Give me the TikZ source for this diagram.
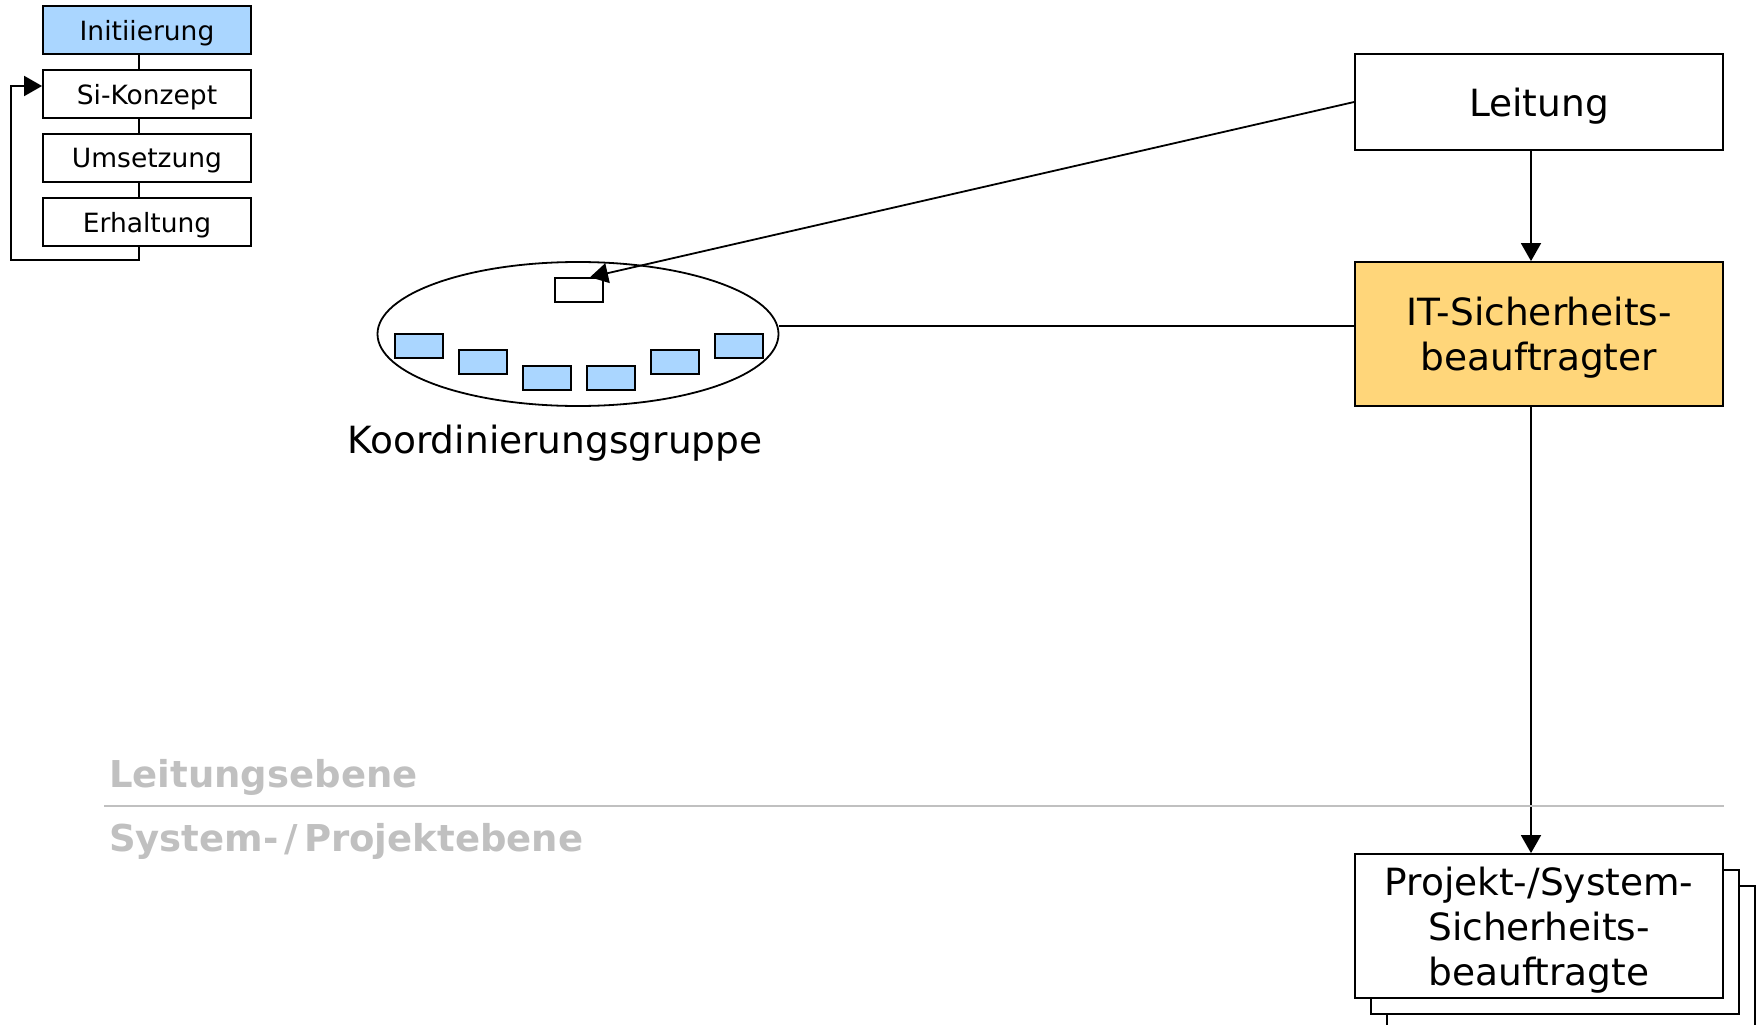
\documentclass[tikz,border=0pt]{standalone}
\usepackage{fontspec}
\setmainfont{DejaVu Sans}
\usetikzlibrary{shapes.geometric, arrows.meta}

\definecolor{memberblue}{RGB}{170,214,255}
\definecolor{itorange}{RGB}{255,214,122}
\definecolor{levelgray}{RGB}{192,192,192}

\newcommand\stagefont{\fontsize{26.5}{32}\selectfont}
\newcommand\boxfont{\fontsize{37.5}{45}\selectfont}
\newcommand\levelfont{\bfseries\fontsize{37}{40}\selectfont}

\begin{document}
\begin{tikzpicture}[
  x=1pt, y=-1pt,
  every node/.style={inner sep=0pt},
  >=Triangle,
  stage/.style={draw, line width=1.8pt,
    minimum width=208pt, minimum height=48pt,
    text depth=0pt, font=\stagefont},
  unit/.style={draw, line width=1.8pt,
    minimum width=368pt, align=center,
    text depth=0pt, font=\boxfont},
  member/.style={draw, line width=1.6pt, fill=memberblue,
    minimum width=48pt, minimum height=24pt},
  link/.style={line width=1.8pt},
  arr/.style={-{Triangle[length=18pt, width=20pt]}, line width=1.8pt},
  level/.style={anchor=base west, text=levelgray, font=\levelfont},
]
\useasboundingbox (0,0) rectangle (1762,1025);
\clip (0,0) rectangle (1762,1025);

%% Phase column (top left)
\node[stage, fill=memberblue] (init) at (147,30) {Initiierung};
\node[stage] (konzept) at (147,94)  {Si-Konzept};
\node[stage] (umsetz)  at (147,158) {Umsetzung};
\node[stage] (erhalt)  at (147,222) {Erhaltung};
\foreach \a/\b in {init/konzept, konzept/umsetz, umsetz/erhalt}
  \draw[link] ([xshift=-8pt]\a.south) -- ([xshift=-8pt]\b.north);
% loop back from Erhaltung to Si-Konzept
\draw[arr] ([xshift=-8pt]erhalt.south) -- ++(0,13)
  -| ([xshift=-31pt, yshift=8pt]konzept.west) -- ([yshift=8pt]konzept.west);

%% Leitung and IT-Sicherheitsbeauftragter
\node[unit, minimum height=96pt] (leitung) at (1539,102) {Leitung};
\node[unit, minimum height=144pt, fill=itorange] (itsb) at (1539,334)
  {IT-Sicherheits-\\beauftragter};
\draw[arr] ([xshift=-8pt]leitung.south) -- ([xshift=-8pt]itsb.north);

%% Koordinierungsgruppe
\node[draw, ellipse, line width=1.8pt,
  minimum width=401pt, minimum height=144pt] (kgroup) at (578,334) {};
\node[draw, line width=1.6pt, fill=white,
  minimum width=48pt, minimum height=24pt] (kchair) at (579,290) {};
\foreach \x/\y [count=\i] in {419/346, 483/362, 547/378,
                              611/378, 675/362, 739/346}
  \node[member] (m\i) at (\x,\y) {};
\node[anchor=base, font=\boxfont] (kglabel) at (555,453)
  {Koordinierungsgruppe};

\draw[arr] (leitung.west) -- ([xshift=11pt]kchair.north);
\draw[link] ([yshift=8pt]itsb.west) -- ([yshift=8pt]itsb.west -| kgroup.east);

%% Projekt-/System-Sicherheitsbeauftragte (stacked)
\node[unit, minimum height=144pt, fill=white] (psb3) at (1571,958) {};
\node[unit, minimum height=144pt, fill=white] (psb2) at (1555,942) {};
\node[unit, minimum height=144pt, fill=white] (psb)  at (1539,926)
  {Projekt-/System-\\Sicherheits-\\beauftragte};
\draw[arr] ([xshift=-8pt]itsb.south) -- ([xshift=-8pt]psb.north);

%% level separator
\coordinate (lvl) at (104,806);
\draw[levelgray, line width=1.6pt] (lvl) -- (lvl -| psb.east);
\node[level] (lvlup)   at (109,787) {Leitungsebene};
\node[level] (lvldown) at (109,851)
  {System-\kern6pt/\kern6pt Projektebene};

\end{tikzpicture}
\end{document}
